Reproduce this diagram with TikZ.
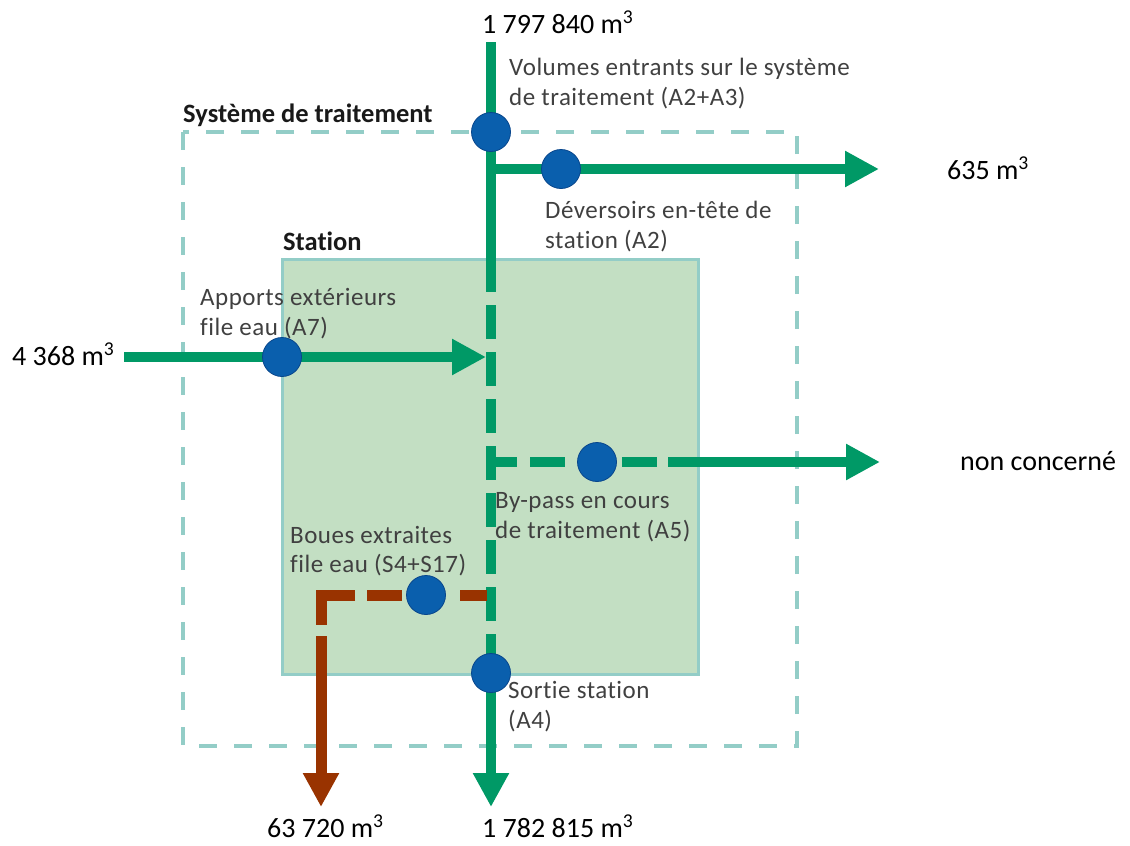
\documentclass[tikz,border=0pt]{standalone}
\usepackage{fontspec}
\setmainfont[Ligatures=NoCommon]{Carlito}
\newfontfamily\labfont[LetterSpace=2,Ligatures=NoCommon]{Carlito}
\usetikzlibrary{arrows.meta}
\definecolor{flowgreen}{RGB}{0,153,102}
\definecolor{dotblue}{RGB}{10,95,173}
\definecolor{dotedge}{RGB}{8,70,140}
\definecolor{sludge}{RGB}{153,51,0}
\definecolor{boxteal}{RGB}{147,205,199}
\definecolor{stationfill}{RGB}{195,223,195}
\definecolor{labgrey}{RGB}{64,64,64}
\tikzset{
  gline/.style={draw=flowgreen, line width=10pt, line cap=butt},
  bline/.style={draw=sludge, line width=11pt, line cap=butt, line join=miter},
  garrow/.style={-{Triangle[length=34pt,width=34pt]}},
  meas/.style={circle, fill=dotblue, draw=dotedge, line width=0.8pt, minimum size=39pt, inner sep=0pt},
  lab/.style={anchor=base west, inner sep=0pt, text=labgrey, font=\labfont\fontsize{25}{30}\selectfont},
  val/.style={anchor=base west, inner sep=0pt, text=black, font=\fontsize{28}{34}\selectfont},
  ttl/.style={anchor=base west, inner sep=0pt, text=black!90, font=\bfseries\fontsize{26.5}{32}\selectfont},
}
\begin{document}
\begin{tikzpicture}[x=1pt,y=-1pt]
\useasboundingbox (0,0) rectangle (1130,846);
% boxes
\node[draw=boxteal, line width=3pt, fill=stationfill, minimum width=416pt, minimum height=415pt, inner sep=0pt, anchor=north west] (station) at (281,258) {};
\draw[boxteal, line width=4pt, dash pattern=on 18pt off 17pt] (183,132) rectangle (797,746);
% coordinates
\coordinate (inTop) at (491,42);
\coordinate (vA) at (491,292);
\coordinate (vB) at (491,305);
\coordinate (vC) at (491,660);
\coordinate (vD) at (491,650);
\coordinate (outBot) at (491,807);
\coordinate (jA2) at (491,169);
\coordinate (tipA2) at (879,169);
\coordinate (inA7) at (124,357);
\coordinate (tipA7) at (486,357);
\coordinate (jA5) at (491,462);
\coordinate (mA5) at (668,462);
\coordinate (tipA5) at (880,462);
\coordinate (jS4) at (487,595);
\coordinate (corner) at (321,595);
\coordinate (tipS4) at (321,807);
% main vertical
\draw[gline] (inTop) -- (vA);
\draw[gline, dash pattern=on 34pt off 13pt] (vB) -- (vC);
\draw[gline, garrow] (vD) -- (outBot);
% A2 overflow
\draw[gline, garrow] (jA2) -- (tipA2);
% A7 external input
\draw[gline, garrow] (inA7) -- (tipA7);
% A5 bypass
\draw[gline, dash pattern=on 26pt off 13pt on 35pt off 57pt on 35pt off 11pt] (jA5) -- (mA5);
\draw[gline, garrow] (mA5) -- (tipA5);
% sludge
\draw[bline] (jS4) -- (460,595);
\draw[bline] (402,595) -- (367,595);
\draw[bline] (355,595) -- (corner) -- (321,625);
\draw[bline, -{Triangle[length=34pt,width=34pt]}] (321,636) -- (tipS4);
% measurement points
\node[meas] (dA3) at (491,132) {};
\node[meas] (dA2) at (561,169) {};
\node[meas] (dA7) at (282,357) {};
\node[meas] (dA5) at (597,462) {};
\node[meas] (dS4) at (426,595) {};
\node[meas] (dA4) at (491,673) {};
% titles
\node[ttl] (tSys) at (183,122) {Système de traitement};
\node[ttl] (tSta) at (283,250) {Station};
% labels
\node[lab] (lA3a) at (509,75) {Volumes entrants sur le système};
\node[lab] (lA3b) at (509,105) {de traitement (A2+A3)};
\node[lab] (lA2a) at (545,218) {Déversoirs en-tête de};
\node[lab] (lA2b) at (545,248) {station (A2)};
\node[lab] (lA7a) at (200,305) {Apports extérieurs};
\node[lab] (lA7b) at (200,335) {file eau (A7)};
\node[lab] (lA5a) at (495,508) {By-pass en cours};
\node[lab] (lA5b) at (495,538) {de traitement (A5)};
\node[lab] (lS4a) at (290,543) {Boues extraites};
\node[lab] (lS4b) at (290,572) {file eau (S4+S17)};
\node[lab] (lA4a) at (508,698) {Sortie station};
\node[lab] (lA4b) at (508,728) {(A4)};
% values
\node[val] (vIn) at (482,33) {1 797 840 m\textsuperscript{3}};
\node[val] (vA2) at (947,179) {635 m\textsuperscript{3}};
\node[val] (vA7) at (12,365) {4 368 m\textsuperscript{3}};
\node[val] (vA5) at (960,470) {non concerné};
\node[val] (vS4) at (267,837) {63 720 m\textsuperscript{3}};
\node[val] (vA4) at (482,837) {1 782 815 m\textsuperscript{3}};
\end{tikzpicture}
\end{document}
